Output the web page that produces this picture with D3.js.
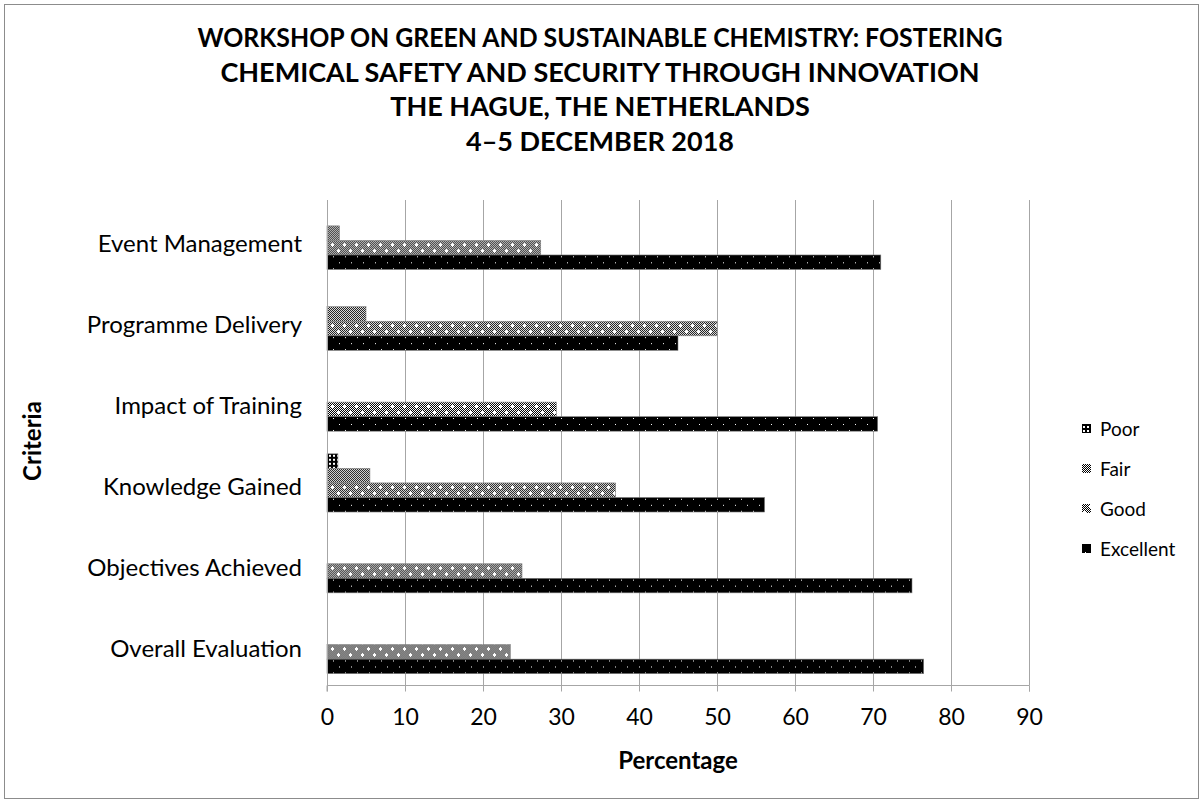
<!DOCTYPE html>
<html>
<head>
<meta charset="utf-8">
<script src="https://cdn.jsdelivr.net/npm/d3@7"></script>
<style>
  html, body { margin: 0; padding: 0; background: #fff; }
  svg { display: block; font-family: Lato, sans-serif; }
</style>
</head>
<body>
<script>
// chart data
const categories = [
  'Event Management',
  'Programme Delivery',
  'Impact of Training',
  'Knowledge Gained',
  'Objectives Achieved',
  'Overall Evaluation'
];
const seriesNames = ['Poor', 'Fair', 'Good', 'Excellent'];
const poor = [0, 0, 0, 1.4, 0, 0];
const fair = [1.6, 5, 0, 5.5, 0, 0];
const good = [27.4, 50, 29.4, 37, 25, 23.5];
const excellent = [71, 45, 70.6, 56.1, 75, 76.5];
const xTicks = [0, 10, 20, 30, 40, 50, 60, 70, 80, 90];
const titleLines = [
  'WORKSHOP ON GREEN AND SUSTAINABLE CHEMISTRY: FOSTERING',
  'CHEMICAL SAFETY AND SECURITY THROUGH INNOVATION',
  'THE HAGUE, THE NETHERLANDS',
  '4\u20135 DECEMBER 2018'
];

const values = [poor, fair, good, excellent];

const width = 1203, height = 803;
const plot = { left: 327, right: 1029, top: 200, bottom: 685 };

const svg = d3.select('body').append('svg')
  .attr('width', width)
  .attr('height', height);

/** fill patterns, imitating the old Excel hatch fills */
const defs = svg.append('defs');

const checker = defs.append('pattern')
  .attr('id', 'checker')
  .attr('patternUnits', 'userSpaceOnUse')
  .attr('width', 2).attr('height', 2);
checker.append('rect').attr('width', 2).attr('height', 2).attr('fill', '#fff');
checker.append('rect').attr('width', 1).attr('height', 1).attr('fill', '#000');
checker.append('rect').attr('x', 1).attr('y', 1).attr('width', 1).attr('height', 1).attr('fill', '#000');

// Poor: dark net with white holes
const pPoor = defs.append('pattern')
  .attr('id', 'pat-poor')
  .attr('patternUnits', 'userSpaceOnUse')
  .attr('width', 4).attr('height', 4);
pPoor.append('rect').attr('width', 4).attr('height', 4).attr('fill', '#000');
pPoor.append('rect').attr('x', 1).attr('y', 1).attr('width', 2).attr('height', 2).attr('fill', '#fff');

// Fair: plain pixel checker
const pFair = defs.append('pattern')
  .attr('id', 'pat-fair')
  .attr('patternUnits', 'userSpaceOnUse')
  .attr('width', 4).attr('height', 4);
pFair.append('rect').attr('width', 4).attr('height', 4).attr('fill', 'url(#checker)');

// Good: checker with white crosses
const pGood = defs.append('pattern')
  .attr('id', 'pat-good')
  .attr('patternUnits', 'userSpaceOnUse')
  .attr('width', 12).attr('height', 12);
pGood.append('rect').attr('width', 12).attr('height', 12).attr('fill', 'url(#checker)');
[[2, 3], [8, 9]].forEach(([cx, cy]) => {
  pGood.append('rect').attr('x', cx - 1).attr('y', cy).attr('width', 3).attr('height', 1).attr('fill', '#fff');
  pGood.append('rect').attr('x', cx).attr('y', cy - 1).attr('width', 1).attr('height', 3).attr('fill', '#fff');
});

// Excellent: black with sparse white dots
const pExc = defs.append('pattern')
  .attr('id', 'pat-excellent')
  .attr('patternUnits', 'userSpaceOnUse')
  .attr('width', 12).attr('height', 12);
pExc.append('rect').attr('width', 12).attr('height', 12).attr('fill', '#000');
pExc.append('rect').attr('x', 3).attr('y', 3).attr('width', 1).attr('height', 1).attr('fill', '#fff');
pExc.append('rect').attr('x', 9).attr('y', 9).attr('width', 1).attr('height', 1).attr('fill', '#fff');

const fills = ['url(#pat-poor)', 'url(#pat-fair)', 'url(#pat-good)', 'url(#pat-excellent)'];

// outer border
svg.append('rect')
  .attr('x', 4.5).attr('y', 4.5)
  .attr('width', width - 9).attr('height', height - 9)
  .attr('fill', 'none')
  .attr('stroke', '#8c8c8c');

// title - first line is set tighter in the original, so squeeze it a bit
svg.append('g')
  .selectAll('text')
  .data(titleLines)
  .enter().append('text')
  .attr('x', 600)
  .attr('y', (d, i) => 47 + i * 34.5)
  .attr('text-anchor', 'middle')
  .attr('font-size', 27)
  .attr('font-weight', 'bold')
  .attr('fill', '#000')
  .text(d => d)
  .each(function (d, i) {
    if (i === 0) {
      d3.select(this)
        .attr('textLength', 805)
        .attr('lengthAdjust', 'spacingAndGlyphs');
    }
  });

/** scales */
const x = d3.scaleLinear().domain([0, 90]).range([plot.left, plot.right]);
const y = d3.scaleBand()
  .domain(categories)
  .range([plot.top, plot.bottom])
  .paddingInner(0.28)
  .paddingOuter(0.14);
const ySub = d3.scaleBand()
  .domain(seriesNames)
  .range([0, y.bandwidth()]);

// vertical gridlines
svg.append('g')
  .selectAll('line')
  .data(xTicks.slice(1))
  .enter().append('line')
  .attr('x1', d => Math.round(x(d)) + 0.5)
  .attr('x2', d => Math.round(x(d)) + 0.5)
  .attr('y1', plot.top)
  .attr('y2', plot.bottom)
  .attr('stroke', '#a6a6a6');

// bars
const rows = categories.map((c, i) => ({
  cat: c,
  vals: seriesNames.map((s, j) => ({ series: s, idx: j, value: values[j][i] }))
}));

svg.append('g')
  .selectAll('g')
  .data(rows)
  .enter().append('g')
  .attr('transform', d => `translate(0,${y(d.cat)})`)
  .selectAll('rect')
  .data(d => d.vals.filter(v => v.value > 0))
  .enter().append('rect')
  .attr('x', x(0))
  .attr('y', d => ySub(d.series))
  .attr('width', d => x(d.value) - x(0))
  .attr('height', ySub.bandwidth())
  .attr('fill', d => fills[d.idx])
  .attr('stroke', '#7f7f7f')
  .attr('stroke-width', 0.6);

// x axis
const xAxis = d3.axisBottom(x)
  .tickValues(xTicks)
  .tickSize(6)
  .tickPadding(17);

const gx = svg.append('g')
  .attr('transform', `translate(0,${plot.bottom + 0.5})`)
  .call(xAxis);
gx.select('.domain').attr('stroke', '#a6a6a6').attr('d', `M${plot.left},6V0H${plot.right + 0.5}V6`);
gx.selectAll('.tick line').attr('stroke', '#a6a6a6');
gx.selectAll('.tick text')
  .attr('font-size', 23)
  .attr('font-family', 'Lato, sans-serif')
  .attr('fill', '#000');

// y axis line and labels
svg.append('line')
  .attr('x1', plot.left + 0.5).attr('x2', plot.left + 0.5)
  .attr('y1', plot.top).attr('y2', plot.bottom)
  .attr('stroke', '#a6a6a6');

svg.append('g')
  .selectAll('text')
  .data(categories)
  .enter().append('text')
  .attr('x', 302)
  .attr('y', d => y(d) + y.bandwidth() / 2 + 12)
  .attr('text-anchor', 'end')
  .attr('font-size', 24)
  .attr('fill', '#000')
  .text(d => d);

// axis titles
svg.append('text')
  .attr('x', (plot.left + plot.right) / 2)
  .attr('y', 769)
  .attr('text-anchor', 'middle')
  .attr('font-size', 24)
  .attr('font-weight', 'bold')
  .text('Percentage');

svg.append('text')
  .attr('transform', 'translate(41,441) rotate(-90)')
  .attr('text-anchor', 'middle')
  .attr('font-size', 24)
  .attr('font-weight', 'bold')
  .text('Criteria');

// legend
const legend = svg.append('g')
  .selectAll('g')
  .data(seriesNames)
  .enter().append('g')
  .attr('transform', (d, i) => `translate(1082,${429 + i * 40})`);

legend.append('rect')
  .attr('x', 0).attr('y', -5)
  .attr('width', 9).attr('height', 9)
  .attr('fill', (d, i) => fills[i]);

legend.append('text')
  .attr('x', 18)
  .attr('y', 7)
  .attr('font-size', 19)
  .attr('fill', '#000')
  .text(d => d);
</script>
</body>
</html>
